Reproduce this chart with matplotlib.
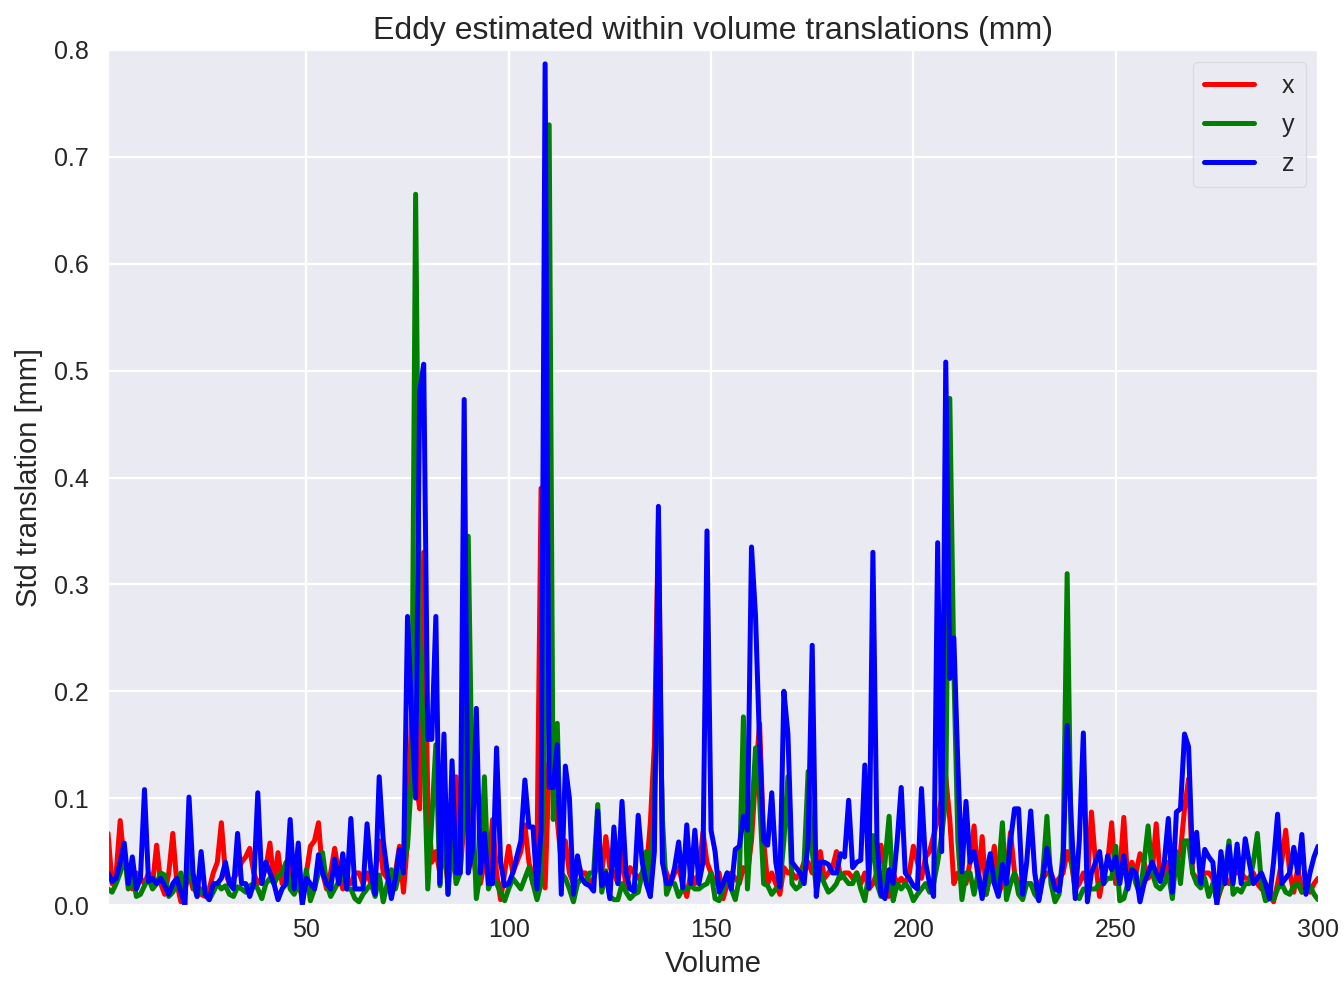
import numpy as np
import matplotlib
matplotlib.use("Agg")
import matplotlib.pyplot as plt
import seaborn as sns

# std of within-volume translations, one value per volume (mm)
x_trans = [
    0.067, 0.020, 0.030, 0.079, 0.040, 0.030, 0.015, 0.030, 0.025, 0.020,
    0.030, 0.020, 0.056, 0.020, 0.010, 0.030, 0.067, 0.020, 0.003, 0.015,
    0.030, 0.015, 0.020, 0.010, 0.008, 0.015, 0.030, 0.040, 0.077, 0.030,
    0.020, 0.025, 0.030, 0.040, 0.045, 0.053, 0.030, 0.020, 0.025, 0.035,
    0.058, 0.020, 0.049, 0.020, 0.030, 0.040, 0.015, 0.030, 0.003, 0.030,
    0.055, 0.060, 0.077, 0.030, 0.015, 0.030, 0.053, 0.030, 0.015, 0.020,
    0.020, 0.030, 0.030, 0.020, 0.030, 0.020, 0.030, 0.060, 0.030, 0.025,
    0.020, 0.030, 0.055, 0.012, 0.060, 0.180, 0.120, 0.090, 0.330, 0.100,
    0.040, 0.050, 0.030, 0.050, 0.020, 0.060, 0.120, 0.030, 0.080, 0.100,
    0.055, 0.025, 0.020, 0.040, 0.030, 0.080, 0.030, 0.005, 0.030, 0.055,
    0.030, 0.040, 0.050, 0.075, 0.040, 0.020, 0.050, 0.390, 0.016, 0.133,
    0.120, 0.080, 0.040, 0.060, 0.030, 0.020, 0.040, 0.030, 0.030, 0.020,
    0.025, 0.040, 0.030, 0.064, 0.035, 0.030, 0.020, 0.050, 0.015, 0.035,
    0.030, 0.025, 0.030, 0.030, 0.077, 0.150, 0.360, 0.040, 0.030, 0.020,
    0.030, 0.035, 0.020, 0.008, 0.030, 0.020, 0.030, 0.068, 0.040, 0.030,
    0.020, 0.030, 0.006, 0.020, 0.030, 0.025, 0.020, 0.035, 0.030, 0.060,
    0.120, 0.170, 0.060, 0.020, 0.030, 0.020, 0.010, 0.035, 0.030, 0.030,
    0.025, 0.030, 0.040, 0.040, 0.030, 0.030, 0.050, 0.025, 0.030, 0.035,
    0.050, 0.025, 0.030, 0.030, 0.025, 0.030, 0.020, 0.030, 0.015, 0.020,
    0.030, 0.056, 0.030, 0.008, 0.030, 0.020, 0.025, 0.020, 0.030, 0.055,
    0.040, 0.025, 0.045, 0.050, 0.065, 0.080, 0.100, 0.120, 0.080, 0.020,
    0.030, 0.030, 0.020, 0.040, 0.074, 0.020, 0.064, 0.010, 0.030, 0.055,
    0.010, 0.020, 0.030, 0.068, 0.030, 0.020, 0.015, 0.020, 0.020, 0.015,
    0.020, 0.025, 0.030, 0.030, 0.020, 0.025, 0.030, 0.050, 0.040, 0.015,
    0.020, 0.030, 0.020, 0.087, 0.040, 0.008, 0.030, 0.040, 0.077, 0.020,
    0.030, 0.082, 0.020, 0.040, 0.030, 0.048, 0.040, 0.025, 0.030, 0.076,
    0.025, 0.030, 0.040, 0.015, 0.040, 0.050, 0.090, 0.118, 0.030, 0.025,
    0.025, 0.030, 0.030, 0.025, 0.003, 0.015, 0.025, 0.020, 0.030, 0.030,
    0.030, 0.025, 0.025, 0.030, 0.020, 0.015, 0.020, 0.015, 0.003, 0.020,
    0.040, 0.070, 0.030, 0.012, 0.035, 0.012, 0.015, 0.012, 0.020, 0.025,
]

y_trans = [
    0.015, 0.012, 0.020, 0.030, 0.048, 0.015, 0.030, 0.008, 0.010, 0.018,
    0.025, 0.015, 0.020, 0.030, 0.028, 0.008, 0.012, 0.020, 0.030, 0.010,
    0.050, 0.020, 0.008, 0.015, 0.010, 0.005, 0.012, 0.020, 0.015, 0.018,
    0.010, 0.008, 0.017, 0.015, 0.012, 0.018, 0.020, 0.015, 0.006, 0.020,
    0.025, 0.020, 0.027, 0.030, 0.040, 0.015, 0.010, 0.020, 0.008, 0.033,
    0.004, 0.015, 0.030, 0.049, 0.020, 0.008, 0.015, 0.022, 0.030, 0.015,
    0.015, 0.006, 0.003, 0.010, 0.015, 0.020, 0.008, 0.028, 0.003, 0.020,
    0.033, 0.015, 0.030, 0.040, 0.055, 0.120, 0.665, 0.250, 0.150, 0.015,
    0.080, 0.150, 0.018, 0.090, 0.010, 0.060, 0.020, 0.030, 0.100, 0.345,
    0.100, 0.006, 0.030, 0.120, 0.015, 0.025, 0.020, 0.012, 0.004, 0.015,
    0.025, 0.020, 0.015, 0.025, 0.035, 0.020, 0.005, 0.020, 0.200, 0.730,
    0.080, 0.170, 0.030, 0.025, 0.015, 0.003, 0.020, 0.025, 0.020, 0.030,
    0.030, 0.094, 0.012, 0.032, 0.008, 0.005, 0.005, 0.020, 0.012, 0.006,
    0.010, 0.012, 0.030, 0.050, 0.008, 0.100, 0.250, 0.080, 0.010, 0.020,
    0.020, 0.008, 0.015, 0.015, 0.018, 0.015, 0.015, 0.018, 0.020, 0.030,
    0.006, 0.004, 0.015, 0.030, 0.015, 0.005, 0.025, 0.176, 0.015, 0.080,
    0.147, 0.100, 0.020, 0.018, 0.010, 0.015, 0.018, 0.060, 0.120, 0.020,
    0.015, 0.018, 0.040, 0.125, 0.050, 0.016, 0.030, 0.020, 0.012, 0.015,
    0.020, 0.030, 0.025, 0.020, 0.020, 0.030, 0.015, 0.004, 0.030, 0.065,
    0.020, 0.008, 0.040, 0.083, 0.004, 0.020, 0.015, 0.020, 0.015, 0.004,
    0.010, 0.015, 0.020, 0.012, 0.020, 0.040, 0.065, 0.100, 0.474, 0.220,
    0.060, 0.005, 0.030, 0.030, 0.010, 0.030, 0.015, 0.010, 0.030, 0.020,
    0.030, 0.077, 0.005, 0.020, 0.030, 0.010, 0.005, 0.020, 0.020, 0.010,
    0.005, 0.030, 0.083, 0.020, 0.003, 0.010, 0.050, 0.310, 0.050, 0.010,
    0.006, 0.015, 0.015, 0.015, 0.015, 0.020, 0.020, 0.025, 0.025, 0.055,
    0.004, 0.006, 0.020, 0.035, 0.020, 0.010, 0.040, 0.074, 0.030, 0.018,
    0.015, 0.020, 0.030, 0.006, 0.050, 0.020, 0.060, 0.060, 0.030, 0.020,
    0.016, 0.025, 0.008, 0.020, 0.005, 0.016, 0.030, 0.060, 0.010, 0.015,
    0.012, 0.020, 0.020, 0.040, 0.067, 0.020, 0.004, 0.006, 0.005, 0.015,
    0.020, 0.012, 0.010, 0.018, 0.020, 0.012, 0.015, 0.018, 0.010, 0.005,
]

z_trans = [
    0.030, 0.022, 0.025, 0.040, 0.058, 0.020, 0.045, 0.015, 0.025, 0.108,
    0.022, 0.025, 0.020, 0.025, 0.018, 0.010, 0.020, 0.025, 0.012, 0.000,
    0.101, 0.030, 0.008, 0.050, 0.010, 0.005, 0.020, 0.020, 0.025, 0.040,
    0.020, 0.015, 0.067, 0.020, 0.020, 0.008, 0.020, 0.105, 0.020, 0.040,
    0.030, 0.020, 0.005, 0.015, 0.020, 0.080, 0.015, 0.058, 0.000, 0.025,
    0.020, 0.015, 0.047, 0.030, 0.020, 0.015, 0.043, 0.020, 0.048, 0.015,
    0.081, 0.015, 0.015, 0.015, 0.076, 0.030, 0.010, 0.120, 0.060, 0.030,
    0.006, 0.025, 0.052, 0.030, 0.270, 0.180, 0.100, 0.480, 0.506, 0.155,
    0.155, 0.270, 0.020, 0.160, 0.010, 0.135, 0.030, 0.030, 0.473, 0.030,
    0.050, 0.184, 0.030, 0.067, 0.020, 0.020, 0.147, 0.040, 0.018, 0.020,
    0.030, 0.045, 0.060, 0.117, 0.073, 0.073, 0.015, 0.070, 0.787, 0.110,
    0.110, 0.150, 0.010, 0.130, 0.100, 0.010, 0.046, 0.025, 0.020, 0.018,
    0.013, 0.088, 0.018, 0.030, 0.006, 0.073, 0.020, 0.097, 0.030, 0.015,
    0.013, 0.084, 0.040, 0.020, 0.008, 0.050, 0.373, 0.040, 0.020, 0.020,
    0.035, 0.059, 0.016, 0.075, 0.020, 0.070, 0.020, 0.040, 0.350, 0.070,
    0.050, 0.012, 0.020, 0.030, 0.015, 0.052, 0.055, 0.083, 0.070, 0.335,
    0.270, 0.150, 0.060, 0.056, 0.105, 0.040, 0.017, 0.200, 0.160, 0.040,
    0.035, 0.030, 0.020, 0.060, 0.243, 0.008, 0.040, 0.040, 0.038, 0.030,
    0.030, 0.048, 0.045, 0.098, 0.035, 0.040, 0.042, 0.131, 0.016, 0.330,
    0.060, 0.010, 0.006, 0.033, 0.020, 0.060, 0.110, 0.030, 0.025, 0.018,
    0.015, 0.109, 0.040, 0.020, 0.008, 0.339, 0.050, 0.508, 0.212, 0.250,
    0.130, 0.031, 0.097, 0.040, 0.050, 0.030, 0.006, 0.030, 0.048, 0.020,
    0.008, 0.038, 0.020, 0.060, 0.090, 0.090, 0.010, 0.040, 0.088, 0.030,
    0.004, 0.025, 0.053, 0.030, 0.015, 0.013, 0.040, 0.168, 0.080, 0.006,
    0.060, 0.161, 0.003, 0.030, 0.040, 0.050, 0.020, 0.046, 0.033, 0.045,
    0.020, 0.046, 0.015, 0.033, 0.030, 0.003, 0.020, 0.030, 0.040, 0.030,
    0.022, 0.040, 0.081, 0.012, 0.087, 0.090, 0.160, 0.148, 0.040, 0.068,
    0.020, 0.052, 0.045, 0.040, 0.000, 0.050, 0.020, 0.055, 0.020, 0.057,
    0.020, 0.062, 0.040, 0.020, 0.025, 0.030, 0.020, 0.006, 0.040, 0.085,
    0.020, 0.025, 0.030, 0.054, 0.030, 0.066, 0.010, 0.030, 0.045, 0.055,
]

series = [("x", x_trans, "red"), ("y", y_trans, "green"), ("z", z_trans, "blue")]

sns.set_style("darkgrid")
plt.rcParams['font.family'] = ['Liberation Sans', 'DejaVu Sans']

fig = plt.figure(figsize=(13.44, 9.88), dpi=100)
ax = fig.add_axes([0.0804, 0.084, 0.9003, 0.8654])

for name, vals, col in series:
    vols = np.arange(1, len(vals) + 1)
    ax.plot(vols, vals, color=col, lw=3.6, label=name)

ax.set_xlim(1, 300)
ax.set_ylim(0, 0.8)
ax.set_xticks([50, 100, 150, 200, 250, 300])
ax.set_yticks(np.arange(0, 0.81, 0.1))
ax.yaxis.set_major_formatter(matplotlib.ticker.FormatStrFormatter('%.1f'))
ax.tick_params(labelsize=18, colors='#262626', length=0)
ax.tick_params(axis='y', pad=14)
ax.tick_params(axis='x', pad=9)
ax.grid(color='white', lw=1.6)

ax.set_title("Eddy estimated within volume translations (mm)", fontsize=23, color='#262626', pad=8)
ax.set_xlabel("Volume", fontsize=21, color='#262626', labelpad=6)
ax.set_ylabel("Std translation [mm]", fontsize=21, color='#262626', labelpad=8)

leg = ax.legend(loc='upper right', fontsize=18, frameon=True, handlelength=2.0,
                borderpad=0.45, labelspacing=0.6, handletextpad=1.1,
                borderaxespad=0.5)
leg.get_frame().set_facecolor('#EAEAF2')
leg.get_frame().set_edgecolor('#D8D8D8')

fig.savefig("out.png", dpi=100)
